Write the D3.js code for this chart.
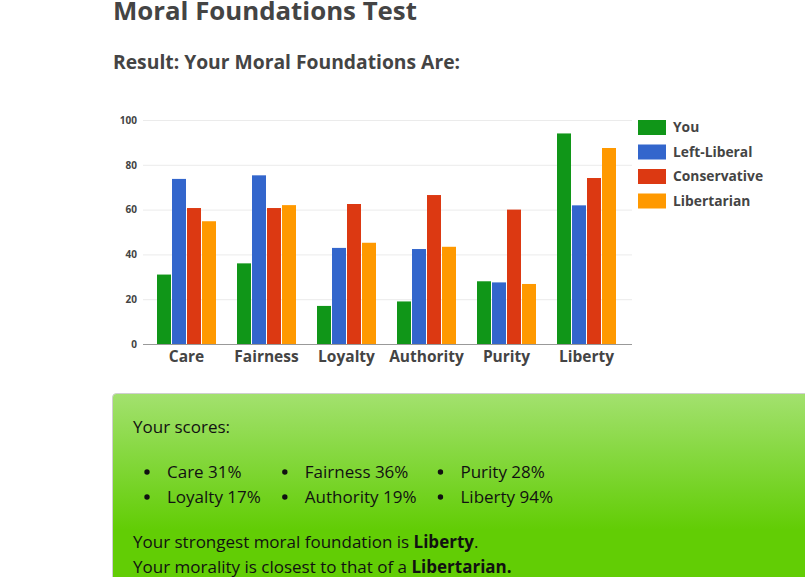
<!DOCTYPE html>
<html>
<head>
<meta charset="utf-8">
<script src="https://cdn.jsdelivr.net/npm/d3@7"></script>
<style>
  body { margin: 0; background: #fff; }
  svg { display: block; font-family: "Open Sans", sans-serif; }
</style>
</head>
<body>
<svg id="page" width="805" height="577"></svg>
<script>
// chart data
var foundations = ["Care", "Fairness", "Loyalty", "Authority", "Purity", "Liberty"];
var seriesNames = ["You", "Left-Liberal", "Conservative", "Libertarian"];
var seriesColors = ["#109618", "#3366cc", "#dc3912", "#ff9900"];
var you          = [31, 36, 17, 19, 28, 94];
var leftLiberal  = [73.7, 75.3, 42.9, 42.4, 27.5, 61.9];
var conservative = [60.7, 60.7, 62.5, 66.5, 60, 74.1];
var libertarian  = [54.8, 62, 45.2, 43.4, 26.8, 87.5];
var yTicks = [0, 20, 40, 60, 80, 100];
// order of the score list in the green box (columns of two)
var scoreColumns = [["Care", "Loyalty"], ["Fairness", "Authority"], ["Purity", "Liberty"]];
var strongest = "Liberty";
var closest = "Libertarian";

var svg = d3.select("#page");

// headings
svg.append("text")
  .attr("x", 113).attr("y", 20)
  .attr("fill", "#444").attr("font-weight", 700).attr("font-size", 25.8)
  .text("Moral Foundations Test");

svg.append("text")
  .attr("x", 113).attr("y", 69)
  .attr("fill", "#444").attr("font-weight", 700).attr("font-size", 19.3)
  .text("Result: Your Moral Foundations Are:");

// chart
var values = [you, leftLiberal, conservative, libertarian];
var rows = foundations.map(function(f, i) {
  return { name: f, vals: values.map(function(s, j) { return { key: seriesNames[j], v: s[i] }; }) };
});

var x0 = d3.scaleBand().domain(foundations).range([146.5, 626.5]).paddingInner(0.25).paddingOuter(0.125);
var x1 = d3.scaleBand().domain(seriesNames).range([0, x0.bandwidth()]);
var y = d3.scaleLinear().domain([0, 100]).range([344, 120]);
var color = d3.scaleOrdinal().domain(seriesNames).range(seriesColors);

// gridlines
svg.append("g").selectAll("line")
  .data(yTicks.slice(1))
  .enter().append("line")
  .attr("x1", 143).attr("x2", 632)
  .attr("y1", function(d) { return y(d) + 0.5; })
  .attr("y2", function(d) { return y(d) + 0.5; })
  .attr("stroke", "#ebebeb");

// y labels
var yAxis = svg.append("g")
  .attr("transform", "translate(143,0)")
  .call(d3.axisLeft(y).tickValues(yTicks).tickSize(0).tickPadding(6));
yAxis.select(".domain").remove();
yAxis.selectAll("text")
  .attr("fill", "#444").attr("font-weight", 700).attr("font-size", 10)
  .attr("font-family", "Open Sans, sans-serif");

// bars
svg.append("g").selectAll("g")
  .data(rows)
  .enter().append("g")
  .attr("transform", function(d) { return "translate(" + x0(d.name) + ",0)"; })
  .selectAll("rect")
  .data(function(d) { return d.vals; })
  .enter().append("rect")
  .attr("x", function(d) { return x1(d.key) + 0.5; })
  .attr("width", x1.bandwidth() - 1)
  .attr("y", function(d) { return y(d.v); })
  .attr("height", function(d) { return y(0) - y(d.v); })
  .attr("fill", function(d) { return color(d.key); });

// x axis
var xAxis = svg.append("g")
  .attr("transform", "translate(0,344)")
  .call(d3.axisBottom(x0).tickSize(0).tickPadding(7));
xAxis.select(".domain").attr("d", "M143,0.5H632").attr("stroke", "#999");
xAxis.selectAll("text")
  .attr("fill", "#444").attr("font-weight", 700).attr("font-size", 15.5)
  .attr("font-family", "Open Sans, sans-serif");

// legend
var legend = svg.append("g").selectAll("g")
  .data(seriesNames)
  .enter().append("g")
  .attr("transform", function(d, i) { return "translate(638," + (120 + i * 24.5) + ")"; });
legend.append("rect")
  .attr("width", 28).attr("height", 15)
  .attr("fill", function(d) { return color(d); });
legend.append("text")
  .attr("x", 35).attr("y", 12)
  .attr("fill", "#444").attr("font-weight", 700).attr("font-size", 13.8)
  .text(function(d) { return d; });

// green result box
var defs = svg.append("defs");
var grad = defs.append("linearGradient")
  .attr("id", "boxgrad").attr("gradientUnits", "userSpaceOnUse")
  .attr("x1", 0).attr("y1", 393).attr("x2", 0).attr("y2", 530);
grad.append("stop").attr("offset", 0).attr("stop-color", "#a3e16f");
grad.append("stop").attr("offset", 1).attr("stop-color", "#62cd05");

svg.append("rect")
  .attr("x", 112.5).attr("y", 393.5)
  .attr("width", 720).attr("height", 220)
  .attr("rx", 4)
  .attr("fill", "url(#boxgrad)")
  .attr("stroke", "#cfcfcf");

var box = svg.append("g").attr("font-size", 17).attr("fill", "#111");

box.append("text").attr("x", 133).attr("y", 433).text("Your scores:");

var colX = 147;
scoreColumns.forEach(function(col) {
  var widest = 0;
  col.forEach(function(name, r) {
    var yy = 478 + r * 25;
    box.append("circle").attr("cx", colX).attr("cy", yy - 6).attr("r", 2.7).attr("fill", "#111");
    var t = box.append("text")
      .attr("x", colX + 20).attr("y", yy)
      .text(name + " " + you[foundations.indexOf(name)] + "%");
    widest = Math.max(widest, t.node().getComputedTextLength());
  });
  colX = colX + 20 + widest + 24;
});

var line1 = box.append("text").attr("x", 133).attr("y", 548);
line1.append("tspan").text("Your strongest moral foundation is ");
line1.append("tspan").attr("font-weight", 700).text(strongest);
line1.append("tspan").text(".");

var line2 = box.append("text").attr("x", 133).attr("y", 573);
line2.append("tspan").text("Your morality is closest to that of a ");
line2.append("tspan").attr("font-weight", 700).text(closest + ".");
</script>
</body>
</html>
